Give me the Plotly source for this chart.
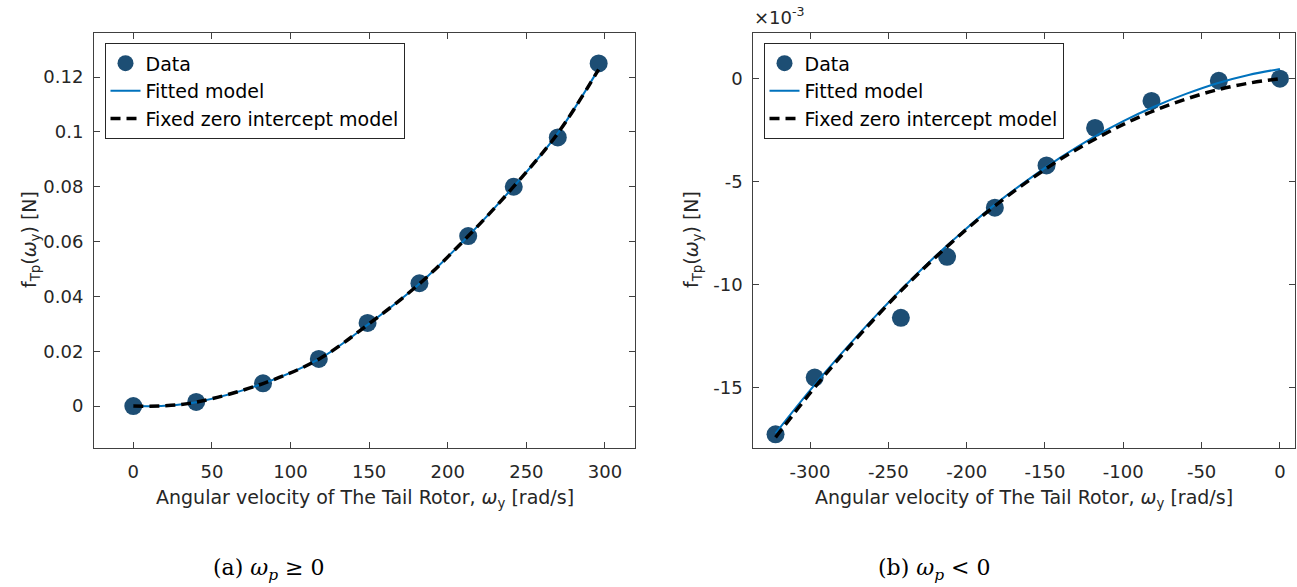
import plotly.graph_objects as go

# ---------------- data ----------------
# (a) omega_p >= 0
left_omega = [0, 40, 82.5, 118, 149, 182, 213, 242, 270, 296]
left_force = [0.0, 0.0015, 0.0083, 0.0172, 0.0303, 0.0448, 0.0620, 0.0800, 0.0980, 0.1250]
left_fit_omega = [0, 20, 40, 82.5, 118, 149, 182, 213, 242, 270, 296]
left_fit_force = [0.0, 0.0001, 0.0014, 0.0082, 0.0171, 0.0296, 0.0446, 0.0620, 0.0801, 0.0995, 0.1230]
left_zero_force = [0.0, 0.0001, 0.0014, 0.0082, 0.0171, 0.0296, 0.0446, 0.0620, 0.0801, 0.0995, 0.1228]

# (b) omega_p < 0   (force values in units of 1e-3 N)
right_omega = [-322, -297, -242, -212.5, -182, -149, -118, -82, -39, 0]
right_force_e3 = [-17.25, -14.5, -11.6, -8.64, -6.26, -4.21, -2.39, -1.08, -0.10, 0.0]
right_fit_omega = [-322, -300, -280, -260, -240, -220, -200, -180, -160, -140,
                   -120, -100, -80, -60, -40, -20, 0]
right_fit_e3 = [-17.20, -15.12, -13.34, -11.66, -10.09, -8.61, -7.25, -5.99, -4.86,
                -3.82, -2.88, -2.06, -1.35, -0.74, -0.22, 0.18, 0.47]
right_zero_e3 = [-17.40, -15.26, -13.44, -11.74, -10.14, -8.67, -7.30, -6.05, -4.93,
                 -3.90, -3.01, -2.22, -1.54, -0.99, -0.54, -0.22, 0.0]

# ticks
left_xticks = [0, 50, 100, 150, 200, 250, 300]
left_yticks = [0, 0.02, 0.04, 0.06, 0.08, 0.1, 0.12]
left_ytick_text = ["0", "0.02", "0.04", "0.06", "0.08", "0.1", "0.12"]
right_xticks = [-300, -250, -200, -150, -100, -50, 0]
right_yticks = [-15, -10, -5, 0]

legend_names = ["Data", "Fitted model", "Fixed zero intercept model"]
x_title = "Angular velocity of The Tail Rotor, <i>ω</i><sub>y</sub> [rad/s]"
y_title = "f<sub>Tp</sub>(<i>ω</i><sub>y</sub>) [N]"
captions = ["(a) <i>ω</i><sub><i>p</i></sub> ≥ 0", "(b) <i>ω</i><sub><i>p</i></sub> &lt; 0"]

# ---------------- styling ----------------
W, H = 1297, 587
FONT = "DejaVu Sans"
TXT = "#262626"
DOT = "#1d4e74"
BLUE = "#0072bd"


def px(x):
    return x / W


def py(y):
    return 1 - y / H


fig = go.Figure()

panels = [
    ("x", "y", "legend", left_omega, left_force, left_fit_omega, left_fit_force, left_zero_force),
    ("x2", "y2", "legend2", right_omega, right_force_e3, right_fit_omega, right_fit_e3, right_zero_e3),
]
for xa, ya, lg, dx, dy, fx, fy, zy in panels:
    fig.add_trace(go.Scatter(x=dx, y=dy, mode="markers", name=legend_names[0],
                             marker=dict(size=18, color=DOT), xaxis=xa, yaxis=ya,
                             legend=lg, legendgroup=lg + "a"))
    fig.add_trace(go.Scatter(x=fx, y=fy, mode="lines", name=legend_names[1],
                             line=dict(color=BLUE, width=2, shape="spline"),
                             xaxis=xa, yaxis=ya, legend=lg, legendgroup=lg + "b"))
    fig.add_trace(go.Scatter(x=fx, y=zy, mode="lines", name=legend_names[2],
                             line=dict(color="black", width=3.5, dash="10px,6px", shape="spline"),
                             xaxis=xa, yaxis=ya, legend=lg, legendgroup=lg + "c"))

axis_common = dict(showline=True, linecolor="#404040", linewidth=1, mirror="ticks",
                   ticks="inside", ticklen=6, tickcolor="#404040", tickwidth=1,
                   showgrid=False, zeroline=False,
                   tickfont=dict(family=FONT, size=18, color=TXT))

y_dom = [py(447.7), py(32.7)]
fig.update_layout(
    width=W, height=H,
    margin=dict(l=0, r=0, t=0, b=0),
    paper_bgcolor="white", plot_bgcolor="white",
    showlegend=True,
    xaxis=dict(axis_common, domain=[px(94), px(635.3)], anchor="y",
               range=[-25, 319.3], tickvals=left_xticks,
               ticktext=[str(v) for v in left_xticks], ticklabelstandoff=8),
    yaxis=dict(axis_common, domain=y_dom, anchor="x",
               range=[-0.0152, 0.1362], tickvals=left_yticks,
               ticktext=left_ytick_text, ticklabelstandoff=6),
    xaxis2=dict(axis_common, domain=[px(753.3), px(1294.5)], anchor="y2",
                range=[-336.2, 9.3], tickvals=right_xticks,
                ticktext=[str(v) for v in right_xticks], ticklabelstandoff=8),
    yaxis2=dict(axis_common, domain=y_dom, anchor="x2",
                range=[-17.9, 2.23], tickvals=right_yticks,
                ticktext=[str(v) for v in right_yticks], ticklabelstandoff=6),
)

legend_common = dict(xanchor="left", yanchor="top", bgcolor="white",
                     bordercolor="#262626", borderwidth=1,
                     font=dict(family=FONT, size=19, color="black"),
                     traceorder="grouped", tracegroupgap=0, itemclick=False)
fig.update_layout(
    legend=dict(legend_common, x=px(104.5), y=py(43.3)),
    legend2=dict(legend_common, x=px(763.5), y=py(43.3)),
)

ann = []
for cx in [(94 + 635.3) / 2, (753.3 + 1294.5) / 2]:
    ann.append(dict(text=x_title, x=px(cx), y=py(484), xref="paper", yref="paper",
                    xanchor="center", yanchor="top", showarrow=False,
                    font=dict(family=FONT, size=19, color=TXT)))
for cx in [30, 692]:
    ann.append(dict(text=y_title, x=px(cx), y=py(240), xref="paper", yref="paper",
                    xanchor="center", yanchor="middle", textangle=-90, showarrow=False,
                    font=dict(family=FONT, size=19, color=TXT)))
ann.append(dict(text="×10<sup>-3</sup>", x=px(752), y=py(30), xref="paper", yref="paper",
                xanchor="left", yanchor="bottom", showarrow=False,
                font=dict(family=FONT, size=18, color=TXT)))
for cx, cap in zip([269, 934], captions):
    ann.append(dict(text=cap, x=px(cx), y=py(569), xref="paper", yref="paper",
                    xanchor="center", yanchor="middle", showarrow=False,
                    font=dict(family="DejaVu Serif", size=22, color="black")))
fig.update_layout(annotations=ann)

fig.write_html("out.html")
